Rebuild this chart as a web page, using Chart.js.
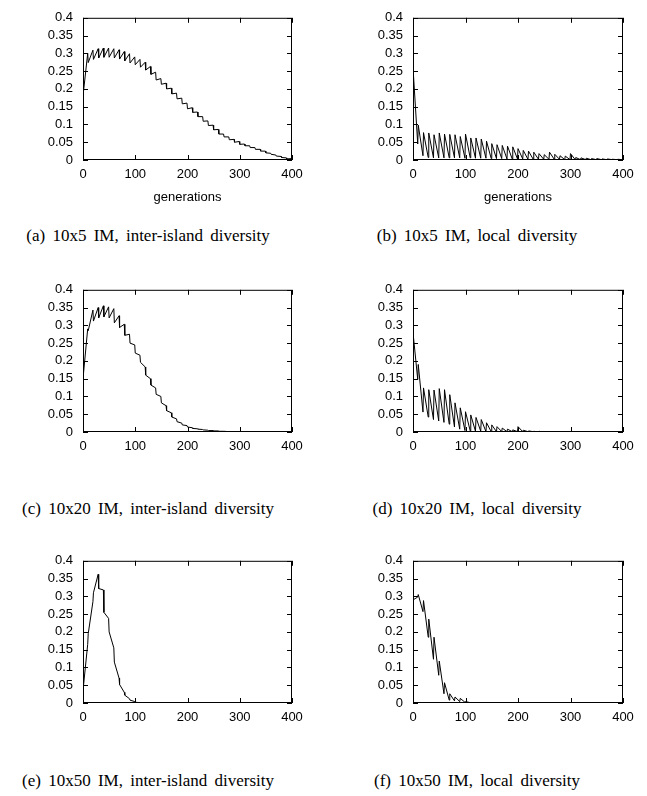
<!DOCTYPE html>
<html>
<head>
<meta charset="utf-8">
<script src="https://cdn.jsdelivr.net/npm/chart.js@4.4.1/dist/chart.umd.min.js"></script>
<style>
  html, body { margin: 0; padding: 0; background: #fff; }
  body { width: 647px; height: 796px; position: relative; overflow: hidden; }
  canvas { position: absolute; }
  .cap { position: absolute; width: 330px; text-align: center; font-family: "Liberation Serif", "Times New Roman", serif; font-size: 17px; word-spacing: 3px; line-height: 20px; color: #000; white-space: nowrap; }
</style>
</head>
<body>
<script>
// ---- data ----
const xTickValues = [0, 100, 200, 300, 400];
const xTickLabels = ['0', '100', '200', '300', '400'];
const yTickValues = [0, 0.05, 0.1, 0.15, 0.2, 0.25, 0.3, 0.35, 0.4];
const yTickLabels = ['0', '0.05', '0.1', '0.15', '0.2', '0.25', '0.3', '0.35', '0.4'];

// generation right after each migration, and the last generation before the next one
const gensStart = [0,10,20,30,40,50,60,70,80,90,100,110,120,130,140,150,160,170,180,190,200,210,220,230,240,250,260,270,280,290,300,310,320,330,340,350,360,370,380,390];
const gensEnd   = [9,19,29,39,49,59,69,79,89,99,109,119,129,139,149,159,169,179,189,199,209,219,229,239,249,259,269,279,289,299,309,319,329,339,349,359,369,379,389,399];

// (a) 10x5 IM, inter-island diversity
const afterA  = [0.180,0.274,0.283,0.287,0.289,0.289,0.287,0.284,0.279,0.273,0.268,0.261,0.253,0.241,0.225,0.213,0.200,0.186,0.172,0.158,0.144,0.134,0.122,0.109,0.097,0.085,0.073,0.065,0.057,0.050,0.044,0.040,0.035,0.030,0.025,0.020,0.016,0.011,0.007,0.003];
const beforeA = [0.300,0.309,0.313,0.315,0.315,0.313,0.310,0.305,0.299,0.290,0.283,0.275,0.263,0.247,0.229,0.216,0.202,0.188,0.174,0.160,0.147,0.135,0.122,0.110,0.098,0.086,0.073,0.065,0.058,0.052,0.045,0.040,0.035,0.030,0.025,0.019,0.014,0.010,0.006,0.004];

// (b) 10x5 IM, local diversity
const afterB  = [0.260,0.098,0.077,0.076,0.071,0.076,0.073,0.072,0.071,0.066,0.073,0.062,0.062,0.059,0.053,0.046,0.043,0.041,0.039,0.037,0.032,0.027,0.025,0.022,0.018,0.015,0.022,0.016,0.012,0.011,0.018,0.007,0.006,0.005,0.004,0.004,0.003,0.003,0.002,0.002];
const beforeB = [0.045,0.012,0.007,0.006,0.006,0.006,0.006,0.006,0.006,0.005,0.006,0.005,0.005,0.005,0.004,0.004,0.004,0.003,0.003,0.003,0.003,0.002,0.002,0.002,0.002,0.002,0.002,0.002,0.001,0.001,0.001,0.001,0.001,0.001,0.001,0.001,0.001,0.001,0.001,0.001];

// (c) 10x20 IM, inter-island diversity
const afterC  = [0.150,0.285,0.312,0.321,0.324,0.321,0.307,0.294,0.272,0.250,0.222,0.196,0.160,0.132,0.106,0.082,0.060,0.042,0.029,0.020,0.014,0.010,0.008,0.006,0.004,0.003,0.002,0.002,0.001,0.000,0,0,0,0,0,0,0,0,0,0];
const beforeC = [0.290,0.343,0.350,0.355,0.352,0.347,0.327,0.303,0.275,0.245,0.216,0.183,0.150,0.124,0.100,0.074,0.054,0.037,0.025,0.018,0.012,0.009,0.007,0.005,0.004,0.003,0.002,0.001,0.001,0.000,0,0,0,0,0,0,0,0,0,0];

// (d) 10x20 IM, local diversity
const afterD  = [0.280,0.190,0.124,0.119,0.118,0.122,0.119,0.105,0.082,0.068,0.057,0.048,0.041,0.035,0.026,0.020,0.015,0.011,0.008,0.006,0.015,0.005,0.003,0.002,0.002,0.001,0.001,0.001,0.001,0,0,0,0,0,0,0,0,0,0,0];
const beforeD = [0.148,0.056,0.042,0.035,0.031,0.027,0.022,0.014,0.008,0.004,0.003,0.002,0.002,0.001,0.001,0.001,0.001,0.001,0.001,0.001,0.001,0.001,0.001,0,0,0,0,0,0,0,0,0,0,0,0,0,0,0,0,0];

// (e) 10x50 IM, inter-island diversity
const afterE  = [0.035,0.195,0.310,0.322,0.255,0.200,0.115,0.052,0.022,0.008,0.002,0.001,0,0,0,0,0,0,0,0,0,0,0,0,0,0,0,0,0,0,0,0,0,0,0,0,0,0,0,0];
const beforeE = [0.165,0.285,0.362,0.318,0.238,0.155,0.070,0.030,0.012,0.004,0.001,0,0,0,0,0,0,0,0,0,0,0,0,0,0,0,0,0,0,0,0,0,0,0,0,0,0,0,0,0];

// (f) 10x50 IM, local diversity
const afterF  = [0.290,0.305,0.288,0.236,0.185,0.118,0.057,0.026,0.017,0.013,0.004,0.001,0,0,0,0,0,0,0,0,0,0,0,0,0,0,0,0,0,0,0,0,0,0,0,0,0,0,0,0];
const beforeF = [0.298,0.257,0.185,0.123,0.078,0.026,0.008,0.006,0.004,0.002,0.001,0,0,0,0,0,0,0,0,0,0,0,0,0,0,0,0,0,0,0,0,0,0,0,0,0,0,0,0,0];

const captions = [
  '(a) 10x5 IM, inter-island diversity',
  '(b) 10x5 IM, local diversity',
  '(c) 10x20 IM, inter-island diversity',
  '(d) 10x20 IM, local diversity',
  '(e) 10x50 IM, inter-island diversity',
  '(f) 10x50 IM, local diversity'
];
const xTitle = 'generations';

// ---- layout ----
const colLeft = [83, 413], colRight = [292, 623];
const rowTop = [10, 282, 553], rowBottom = [160, 432, 703];
const capCenterX = [148, 477];
const capCenterY = [236, 509, 781];

const panels = [
  { after: afterA, before: beforeA, col: 0, row: 0 },
  { after: afterB, before: beforeB, col: 1, row: 0 },
  { after: afterC, before: beforeC, col: 0, row: 1 },
  { after: afterD, before: beforeD, col: 1, row: 1 },
  { after: afterE, before: beforeE, col: 0, row: 2 },
  { after: afterF, before: beforeF, col: 1, row: 2 }
];

function buildPoints(after, before) {
  const pts = [];
  for (let k = 0; k < gensStart.length; k++) {
    pts.push({ x: gensStart[k], y: after[k] });
    pts.push({ x: gensEnd[k], y: before[k] });
  }
  return pts;
}

Chart.defaults.font.family = '"Liberation Sans", Arial, Helvetica, sans-serif';
Chart.defaults.font.size = 13;
Chart.defaults.color = '#000';

const framePlugin = {
  id: 'frame',
  afterDraw(chart) {
    const { ctx, chartArea: a, scales: { x, y } } = chart;
    ctx.save();
    ctx.strokeStyle = '#000';
    ctx.lineWidth = 1;
    ctx.beginPath();
    xTickValues.forEach(v => {
      const px = Math.round(x.getPixelForValue(v)) + 0.5;
      ctx.moveTo(px, a.bottom); ctx.lineTo(px, a.bottom - 5);
      ctx.moveTo(px, a.top); ctx.lineTo(px, a.top + 5);
    });
    yTickValues.forEach(v => {
      const py = Math.round(y.getPixelForValue(v)) + 0.5;
      ctx.moveTo(a.left, py); ctx.lineTo(a.left + 5, py);
      ctx.moveTo(a.right, py); ctx.lineTo(a.right - 5, py);
    });
    ctx.stroke();
    ctx.strokeRect(a.left + 0.5, a.top + 0.5, a.right - a.left - 1, a.bottom - a.top - 1);
    ctx.restore();
  }
};

const Y_AXIS_W = 83, PAD_TOP = 10, PAD_RIGHT = 20;

panels.forEach((p, i) => {
  const l = colLeft[p.col], r = colRight[p.col];
  const t = rowTop[p.row], b = rowBottom[p.row];
  const showTitle = p.row === 0;
  const axisH = showTitle ? 50 : 30;
  const cv = document.createElement('canvas');
  const w = (r - l) + Y_AXIS_W + PAD_RIGHT;
  const h = PAD_TOP + (b - t) + axisH;
  cv.width = w; cv.height = h;
  cv.style.width = w + 'px'; cv.style.height = h + 'px';
  cv.style.left = (l - Y_AXIS_W) + 'px';
  cv.style.top = (t - PAD_TOP) + 'px';
  document.body.appendChild(cv);

  new Chart(cv.getContext('2d'), {
    type: 'line',
    data: {
      datasets: [{
        data: buildPoints(p.after, p.before),
        borderColor: '#000',
        borderWidth: 1,
        pointRadius: 0,
        tension: 0,
        fill: false
      }]
    },
    options: {
      responsive: false,
      animation: false,
      devicePixelRatio: 1,
      parsing: false,
      layout: { padding: { left: 0, top: PAD_TOP, right: PAD_RIGHT, bottom: 0 } },
      plugins: { legend: { display: false }, tooltip: { enabled: false } },
      scales: {
        x: {
          type: 'linear', min: 0, max: 400,
          grid: { display: false, drawTicks: false },
          border: { display: false },
          afterBuildTicks: s => { s.ticks = xTickValues.map(v => ({ value: v })); },
          afterFit: s => { s.height = axisH; },
          ticks: { padding: 7, maxRotation: 0, autoSkip: false, callback: (v, idx) => xTickLabels[idx] },
          title: { display: showTitle, text: xTitle, padding: { top: 0, bottom: 5 }, font: { size: 13 } }
        },
        y: {
          type: 'linear', min: 0, max: 0.4,
          grid: { display: false, drawTicks: false },
          border: { display: false },
          afterBuildTicks: s => { s.ticks = yTickValues.map(v => ({ value: v })); },
          afterFit: s => { s.width = Y_AXIS_W; },
          ticks: { padding: 10, autoSkip: false, callback: (v, idx) => yTickLabels[idx] }
        }
      }
    },
    plugins: [framePlugin]
  });

  const cap = document.createElement('div');
  cap.className = 'cap';
  cap.textContent = captions[i];
  cap.style.left = (capCenterX[p.col] - 165) + 'px';
  cap.style.top = (capCenterY[p.row] - 10) + 'px';
  document.body.appendChild(cap);
});
</script>
</body>
</html>
